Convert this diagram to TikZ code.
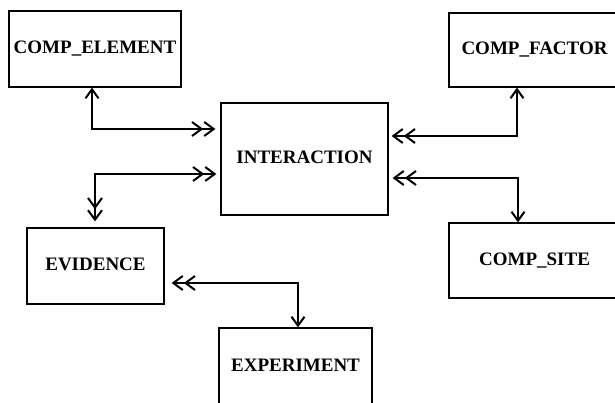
\documentclass[tikz,border=0pt]{standalone}
\usepackage{fontspec}
\setmainfont{Liberation Serif}
\usetikzlibrary{arrows.meta}
\tikzset{
  sa/.tip={Straight Barb[length=9pt,width=13pt]},
  dd/.tip={Straight Barb[length=9.5pt,width=14pt,sep=0pt] Straight Barb[length=9.5pt,width=14pt]},
}
\begin{document}
\begin{tikzpicture}[x=1pt,y=-1pt,
  box/.style={draw, line width=1.2pt, inner sep=0pt,
    font=\fontsize{19}{20}\selectfont\bfseries,
    text height=12.7pt, text depth=3pt},
  conn/.style={line width=2pt}]
\useasboundingbox (0,0) rectangle (615,403);
\node[box, minimum width=172pt, minimum height=76pt] (ce) at (95,49) {COMP\_ELEMENT};
\node[box, minimum width=171pt, minimum height=74pt] (cf) at (534.5,50) {COMP\_FACTOR};
\node[box, minimum width=167pt, minimum height=112pt] (inter) at (304.5,159) {INTERACTION};
\node[box, minimum width=137pt, minimum height=76pt] (ev) at (95.5,266) {EVIDENCE};
\node[box, minimum width=171pt, minimum height=75pt] (cs) at (534.5,260.5) {COMP\_SITE};
\node[box, minimum width=153pt, minimum height=78pt] (ex) at (295.5,367) {EXPERIMENT};
\coordinate (k1) at (92,129);
\coordinate (k2) at (95,174);
\coordinate (k3) at (517,136);
\coordinate (k4) at (518,178);
\coordinate (k5) at (298,283);
\draw[conn, {sa}-{dd}, shorten >=5pt] (ce.south -| k1) -- (k1) -- (inter.west |- k1);
\draw[conn, {dd}-{dd}, shorten <=6pt, shorten >=4pt] (ev.north -| k2) -- (k2) -- (inter.west |- k2);
\draw[conn, {sa}-{dd}, shorten >=3pt] (cf.south -| k3) -- (k3) -- (inter.east |- k3);
\draw[conn, {sa}-{dd}, shorten >=4pt] (cs.north -| k4) -- (k4) -- (inter.east |- k4);
\draw[conn, {sa}-{dd}, shorten >=7pt] (ex.north -| k5) -- (k5) -- (ev.east |- k5);
\end{tikzpicture}
\end{document}
